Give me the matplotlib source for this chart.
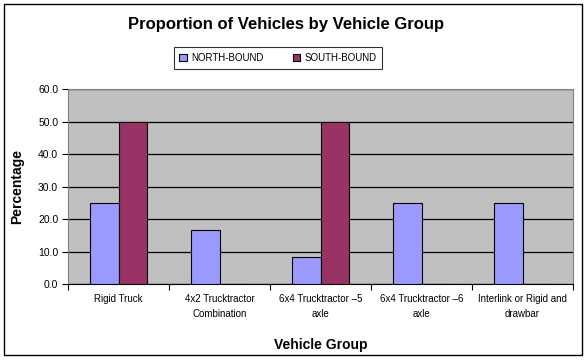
import numpy as np
import matplotlib
matplotlib.use("Agg")
import matplotlib.pyplot as plt
from matplotlib.patches import Rectangle

plt.rcParams['font.family'] = ['Liberation Sans', 'DejaVu Sans']

# data
groups = ["Rigid Truck", "4x2 Trucktractor\nCombination", "6x4 Trucktractor \u20135\naxle",
          "6x4 Trucktractor \u20136\naxle", "Interlink or Rigid and\ndrawbar"]
north = [25.0, 16.7, 8.3, 25.0, 25.0]
south = [50.0, 0.0, 50.0, 0.0, 0.0]
series_names = ["NORTH-BOUND", "SOUTH-BOUND"]
north_color = "#9999FF"
south_color = "#993366"

fig = plt.figure(figsize=(5.87, 3.61), dpi=100)
W, H = 587, 361
ax = fig.add_axes([68 / W, 1 - 284 / H, (573 - 68) / W, (284 - 89) / H])

# outer chart border
fig.patches.append(Rectangle((4 / W, 1 - 355 / H), (582 - 4) / W, (355 - 4) / H,
                             transform=fig.transFigure, fill=False, edgecolor="black", linewidth=1))

x = np.arange(len(groups))
bw = 1 / 3.5
ax.set_facecolor("#C0C0C0")
ax.bar(x - bw / 2, north, bw, color=north_color, edgecolor="black", linewidth=0.8,
       label=series_names[0], zorder=3)
ax.bar(x + bw / 2, south, bw, color=south_color, edgecolor="black", linewidth=0.8,
       label=series_names[1], zorder=3)

ax.set_xlim(-0.5, len(groups) - 0.5)
ax.set_ylim(0, 60)
ax.set_yticks(np.arange(0, 61, 10))
ax.set_yticklabels(["%.1f" % v for v in np.arange(0, 61, 10)], fontsize=7.5)
ax.yaxis.grid(True, color="black", linewidth=0.9, zorder=1)
ax.set_axisbelow(True)

# category ticks at the boundaries, labels centred
ax.set_xticks(np.arange(-0.5, len(groups), 1.0))
ax.set_xticklabels([])
ax.set_xticks(x, minor=True)
ax.set_xticklabels(groups, minor=True, fontsize=7, linespacing=1.6)
ax.tick_params(axis="x", which="minor", length=0, pad=7)
ax.tick_params(axis="x", which="major", length=4, width=0.8)
ax.tick_params(axis="y", length=4, width=0.8, pad=3)

for s in ["top", "right", "left"]:
    ax.spines[s].set_color("#808080")
    ax.spines[s].set_linewidth(0.8)
ax.spines["bottom"].set_color("black")

ax.set_ylabel("Percentage", fontsize=10, fontweight="bold", labelpad=10)
ax.set_xlabel("Vehicle Group", fontsize=10, fontweight="bold", labelpad=14)

fig.text(0.5 * (130 + 443) / W, 1 - 24 / H, "Proportion of Vehicles by Vehicle Group",
         ha="center", va="center", fontsize=12, fontweight="bold")

leg = fig.legend(loc="center", bbox_to_anchor=(278 / W, 1 - 58 / H), ncol=2, fontsize=7,
                 frameon=True, fancybox=False, edgecolor="black", handlelength=0.8,
                 handleheight=0.8, columnspacing=3, borderpad=0.6, handletextpad=0.4)
leg.get_frame().set_linewidth(0.8)

fig.savefig("out.png", dpi=100)
